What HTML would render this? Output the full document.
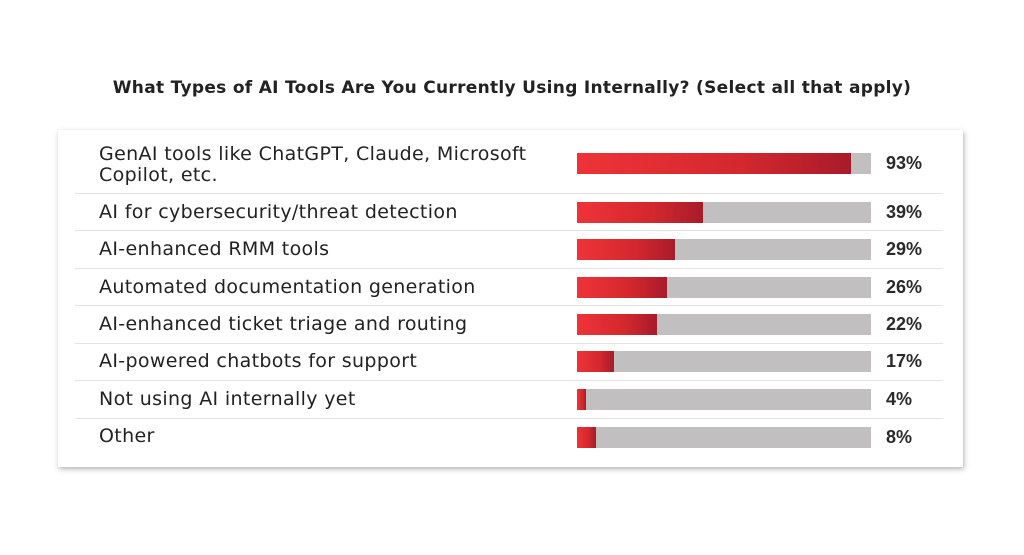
<!DOCTYPE html>
<html><head><style>
body{margin:0;width:1024px;height:555px;background:#fff;position:relative;font-family:"DejaVu Sans",sans-serif;overflow:hidden}
.title{position:absolute;top:78px;left:0;width:1024px;text-align:center;font-weight:bold;font-size:17px;letter-spacing:0.3px;color:#222;white-space:nowrap}
.card{position:absolute;left:58px;top:130px;width:905px;height:337px;background:#fff;box-shadow:1px 2px 5px rgba(0,0,0,.3)}
.row{position:absolute;left:99px;font-size:19px;letter-spacing:0.35px;color:#222;line-height:21px;white-space:nowrap}
.line{position:absolute;left:75px;width:868px;height:1px;background:#e2e2e2}
.bar{position:absolute;left:577px;width:294px;height:21px;background:#c1bfc0}
.bar div{height:100%;background:linear-gradient(90deg,#ee3338,#d3282e 60%,#a81b2a)}
.pct{position:absolute;left:886px;font-family:"Liberation Sans",sans-serif;font-size:18px;font-weight:bold;color:#2a2a2a;line-height:21px}
</style></head><body>
<div class="title">What Types of AI Tools Are You Currently Using Internally? (Select all that apply)</div>
<div class="card"></div>
<div class="row" style="top:144px">GenAI tools like ChatGPT, Claude, Microsoft<br>Copilot, etc.</div>
<div class="bar" style="top:153px"><div style="width:274px"></div></div><div class="pct" style="top:153px">93%</div>
<div class="line" style="top:193px"></div>
<div class="row" style="top:202px">AI for cybersecurity/threat detection</div>
<div class="bar" style="top:202px"><div style="width:126px"></div></div><div class="pct" style="top:202px">39%</div>
<div class="line" style="top:230px"></div>
<div class="row" style="top:239px">AI-enhanced RMM tools</div>
<div class="bar" style="top:239px"><div style="width:98px"></div></div><div class="pct" style="top:239px">29%</div>
<div class="line" style="top:268px"></div>
<div class="row" style="top:277px">Automated documentation generation</div>
<div class="bar" style="top:277px"><div style="width:90px"></div></div><div class="pct" style="top:277px">26%</div>
<div class="line" style="top:305px"></div>
<div class="row" style="top:314px">AI-enhanced ticket triage and routing</div>
<div class="bar" style="top:314px"><div style="width:80px"></div></div><div class="pct" style="top:314px">22%</div>
<div class="line" style="top:343px"></div>
<div class="row" style="top:351px">AI-powered chatbots for support</div>
<div class="bar" style="top:351px"><div style="width:37px"></div></div><div class="pct" style="top:351px">17%</div>
<div class="line" style="top:380px"></div>
<div class="row" style="top:389px">Not using AI internally yet</div>
<div class="bar" style="top:389px"><div style="width:9px"></div></div><div class="pct" style="top:389px">4%</div>
<div class="line" style="top:418px"></div>
<div class="row" style="top:426px">Other</div>
<div class="bar" style="top:427px"><div style="width:19px"></div></div><div class="pct" style="top:427px">8%</div>
</body></html>
